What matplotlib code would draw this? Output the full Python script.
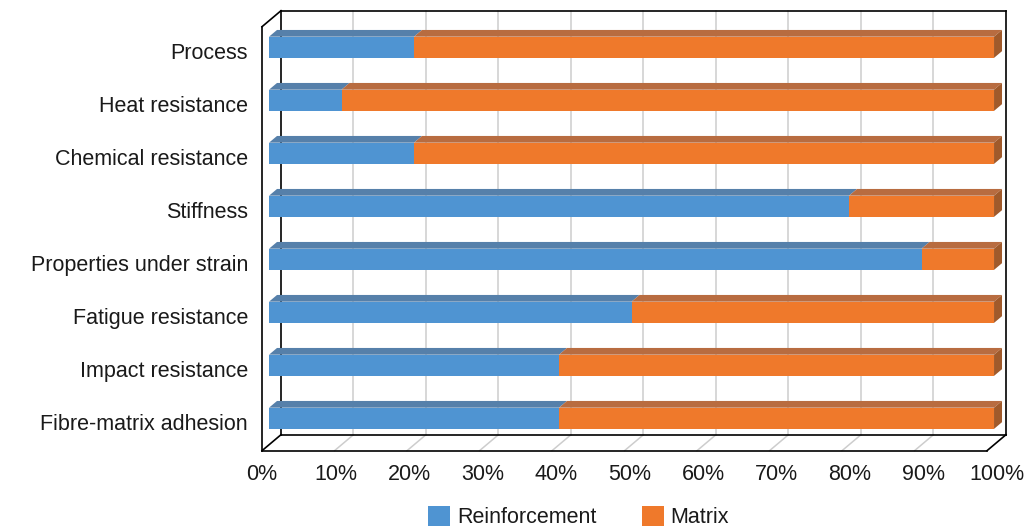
#!/usr/bin/env python3
"""Stacked 3D-style horizontal bars: reinforcement vs matrix share per property."""

from __future__ import annotations

import matplotlib

matplotlib.use("Agg")
import matplotlib.pyplot as plt
from matplotlib.patches import Patch, Polygon

plt.rcParams["font.family"] = ["Liberation Sans", "DejaVu Sans"]

# data (bottom to top, as drawn)
categories = [
    "Fibre-matrix adhesion",
    "Impact resistance",
    "Fatigue resistance",
    "Properties under strain",
    "Stiffness",
    "Chemical resistance",
    "Heat resistance",
    "Process",
]
reinforcement = [40, 40, 50, 90, 80, 20, 10, 20]
matrix = [60, 60, 50, 10, 20, 80, 90, 80]
series_names = ["Reinforcement", "Matrix"]
x_ticks = [0, 10, 20, 30, 40, 50, 60, 70, 80, 90, 100]
x_tick_labels = [f"{t}%" for t in x_ticks]

# style / fake-3D geometry
FRONT = {"Reinforcement": "#4F94D2", "Matrix": "#EF792B"}
TOP = {"Reinforcement": "#5680AA", "Matrix": "#B86C40"}
SIDE = {"Reinforcement": "#3F6F9C", "Matrix": "#A05A2B"}
GRID_COLOR = "#CDCDCD"
DEPTH_X = 2.62      # full box depth, in % units
DEPTH_Y = 0.302     # full box depth, in category units
BAR_FRONT = 0.37    # depth fraction of the bar front face
BAR_BACK = 0.79     # depth fraction of the bar back face
BAR_HALF = 0.2
LABEL_SPREAD = 1.0138
FONT_SIZE = 15.5
TEXT_COLOR = "#1a1a1a"


def proj(x: float, y: float, d: float) -> tuple[float, float]:
    return x + d * DEPTH_X, y + d * DEPTH_Y


def line(ax, p0, p1, color, lw, z):
    ax.plot([p0[0], p1[0]], [p0[1], p1[1]], color=color, lw=lw,
            zorder=z, clip_on=False, solid_capstyle="projecting")


def draw_box(ax, y_lo: float, y_hi: float) -> None:
    x_max = x_ticks[-1]
    for t in x_ticks[1:-1]:
        line(ax, proj(t, y_lo, 1), proj(t, y_hi, 1), GRID_COLOR, 1.1, 1)
        line(ax, proj(t, y_lo, 0), proj(t, y_lo, 1), GRID_COLOR, 1.1, 1)

    edges = [
        (proj(0, y_lo, 1), proj(0, y_hi, 1)),
        (proj(0, y_hi, 1), proj(x_max, y_hi, 1)),
        (proj(x_max, y_hi, 1), proj(x_max, y_lo, 1)),
        (proj(0, y_lo, 1), proj(x_max, y_lo, 1)),
        (proj(0, y_lo, 0), proj(0, y_hi, 0)),
        (proj(0, y_hi, 0), proj(0, y_hi, 1)),
        (proj(0, y_lo, 0), proj(x_max, y_lo, 0)),
        (proj(x_max, y_lo, 0), proj(x_max, y_lo, 1)),
        (proj(0, y_lo, 0), proj(0, y_lo, 1)),
    ]
    for p0, p1 in edges:
        line(ax, p0, p1, "black", 1.2, 2)


def draw_bars(ax) -> None:
    for i in range(len(categories)):
        left = 0.0
        segments = [("Reinforcement", reinforcement[i]), ("Matrix", matrix[i])]
        for j, (name, value) in enumerate(segments):
            right = left + value
            lo, hi = i - BAR_HALF, i + BAR_HALF
            front = [proj(left, lo, BAR_FRONT), proj(right, lo, BAR_FRONT),
                     proj(right, hi, BAR_FRONT), proj(left, hi, BAR_FRONT)]
            top = [proj(left, hi, BAR_FRONT), proj(right, hi, BAR_FRONT),
                   proj(right, hi, BAR_BACK), proj(left, hi, BAR_BACK)]
            ax.add_patch(Polygon(top, closed=True, fc=TOP[name], ec="none",
                                 zorder=3, clip_on=False))
            ax.add_patch(Polygon(front, closed=True, fc=FRONT[name], ec="none",
                                 zorder=4, clip_on=False))
            if j == len(segments) - 1:
                side = [proj(right, lo, BAR_FRONT), proj(right, hi, BAR_FRONT),
                        proj(right, hi, BAR_BACK), proj(right, lo, BAR_BACK)]
                ax.add_patch(Polygon(side, closed=True, fc=SIDE[name], ec="none",
                                     zorder=3, clip_on=False))
            left = right


def draw_labels(ax, y_lo: float) -> None:
    for t, lab in zip(x_ticks, x_tick_labels):
        ax.annotate(lab, xy=(t * LABEL_SPREAD, y_lo), xytext=(0, -24),
                    textcoords="offset pixels", ha="center", va="center",
                    fontsize=FONT_SIZE, color=TEXT_COLOR, annotation_clip=False)
    for i, cat in enumerate(categories):
        ax.annotate(cat, xy=(0, i), xytext=(-14, 0), textcoords="offset pixels",
                    ha="right", va="center", fontsize=FONT_SIZE, color=TEXT_COLOR,
                    annotation_clip=False)


def main() -> None:
    W, H = 1027, 531
    fig = plt.figure(figsize=(W / 100, H / 100), dpi=100)
    ax = fig.add_axes([262 / W, 80.3 / H, 725 / W, 424 / H])
    y_lo, y_hi = -0.5, len(categories) - 0.5
    ax.set_xlim(0, 100)
    ax.set_ylim(y_lo, y_hi)
    ax.axis("off")

    draw_box(ax, y_lo, y_hi)
    draw_bars(ax)
    draw_labels(ax, y_lo)

    handles = [Patch(fc=FRONT[n], ec="none", label=n) for n in series_names]
    fig.legend(handles=handles, loc="upper left", bbox_to_anchor=(428 / W, 25 / H),
               ncol=2, frameon=False, fontsize=FONT_SIZE, handlelength=1.02,
               handleheight=1.02, handletextpad=0.33, columnspacing=2.1,
               borderpad=0, borderaxespad=0, labelcolor=TEXT_COLOR)

    fig.savefig("out.png", dpi=100)
    plt.close(fig)


if __name__ == "__main__":
    main()
